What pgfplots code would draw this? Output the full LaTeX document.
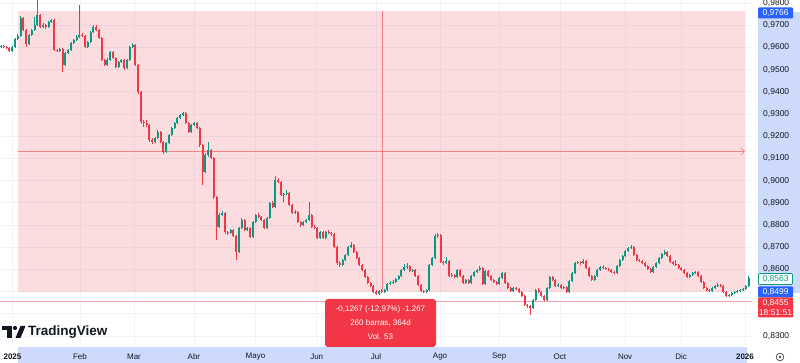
\documentclass[border=0pt]{standalone}
\usepackage{fontspec}
\setmainfont{Liberation Sans}
\usepackage{pgfplots}
\pgfplotsset{compat=1.18}
\usepackage{pgfplotstable}
\usetikzlibrary{arrows.meta}
\definecolor{tvgreen}{HTML}{089981}
\definecolor{tvred}{HTML}{F23645}
\definecolor{tvblue}{HTML}{2962FF}
\definecolor{band}{HTML}{CDDAFB}
\definecolor{gridc}{HTML}{F0F3FA}
\definecolor{txt}{HTML}{131722}

\pgfplotstableread{
i o h l c
0 0.9602 0.9611 0.9598 0.9606
1 0.9606 0.9612 0.9597 0.9602
2 0.9602 0.9606 0.9591 0.9597
3 0.9597 0.9600 0.9577 0.9584
4 0.9584 0.9607 0.9580 0.9602
5 0.9602 0.9643 0.9598 0.9638
6 0.9638 0.9660 0.9633 0.9651
7 0.9651 0.9742 0.9647 0.9732
8 0.9732 0.9737 0.9672 0.9678
9 0.9678 0.9683 0.9602 0.9615
10 0.9615 0.9661 0.9610 0.9656
11 0.9656 0.9684 0.9651 0.9678
12 0.9678 0.9735 0.9673 0.9701
13 0.9701 0.9812 0.9696 0.9746
14 0.9746 0.9752 0.9687 0.9692
15 0.9692 0.9708 0.9686 0.9701
16 0.9701 0.9706 0.9682 0.9692
17 0.9692 0.9719 0.9688 0.9714
18 0.9714 0.9730 0.9709 0.9723
19 0.9723 0.9727 0.9582 0.9588
20 0.9588 0.9595 0.9577 0.9584
21 0.9584 0.9599 0.9579 0.9593
22 0.9593 0.9597 0.9489 0.9521
23 0.9521 0.9581 0.9515 0.9575
24 0.9575 0.9594 0.9570 0.9588
25 0.9588 0.9626 0.9583 0.9620
26 0.9620 0.9640 0.9615 0.9633
27 0.9633 0.9654 0.9628 0.9647
28 0.9647 0.9791 0.9641 0.9656
29 0.9656 0.9663 0.9645 0.9651
30 0.9651 0.9655 0.9596 0.9602
31 0.9602 0.9629 0.9597 0.9624
32 0.9624 0.9675 0.9619 0.9669
33 0.9669 0.9699 0.9664 0.9692
34 0.9692 0.9700 0.9672 0.9678
35 0.9678 0.9683 0.9636 0.9642
36 0.9642 0.9646 0.9537 0.9543
37 0.9543 0.9549 0.9514 0.9521
38 0.9521 0.9550 0.9516 0.9543
39 0.9543 0.9585 0.9538 0.9579
40 0.9579 0.9584 0.9546 0.9552
41 0.9552 0.9557 0.9505 0.9512
42 0.9512 0.9540 0.9507 0.9534
43 0.9534 0.9549 0.9528 0.9543
44 0.9543 0.9548 0.9500 0.9507
45 0.9507 0.9548 0.9502 0.9543
46 0.9543 0.9607 0.9538 0.9602
47 0.9602 0.9622 0.9596 0.9611
48 0.9611 0.9615 0.9515 0.9521
49 0.9521 0.9526 0.9392 0.9399
50 0.9399 0.9403 0.9255 0.9264
51 0.9264 0.9272 0.9240 0.9259
52 0.9259 0.9275 0.9243 0.9250
53 0.9250 0.9255 0.9176 0.9183
54 0.9183 0.9190 0.9165 0.9174
55 0.9174 0.9198 0.9169 0.9192
56 0.9192 0.9226 0.9187 0.9219
57 0.9219 0.9224 0.9168 0.9174
58 0.9174 0.9178 0.9120 0.9129
59 0.9129 0.9175 0.9124 0.9169
60 0.9169 0.9211 0.9164 0.9205
61 0.9205 0.9243 0.9200 0.9237
62 0.9237 0.9266 0.9232 0.9259
63 0.9259 0.9288 0.9254 0.9282
64 0.9282 0.9302 0.9277 0.9295
65 0.9295 0.9310 0.9290 0.9304
66 0.9304 0.9309 0.9253 0.9259
67 0.9259 0.9264 0.9213 0.9219
68 0.9219 0.9256 0.9214 0.9250
69 0.9250 0.9266 0.9245 0.9259
70 0.9259 0.9264 0.9231 0.9237
71 0.9237 0.9241 0.9152 0.9160
72 0.9160 0.9165 0.8980 0.9039
73 0.9039 0.9125 0.9033 0.9115
74 0.9115 0.9174 0.9108 0.9138
75 0.9138 0.9143 0.9096 0.9102
76 0.9102 0.9106 0.8918 0.8926
77 0.8926 0.8930 0.8732 0.8791
78 0.8791 0.8852 0.8785 0.8845
79 0.8845 0.8862 0.8839 0.8854
80 0.8854 0.8858 0.8761 0.8768
81 0.8768 0.8775 0.8757 0.8764
82 0.8764 0.8783 0.8758 0.8777
83 0.8777 0.8782 0.8744 0.8750
84 0.8750 0.8755 0.8642 0.8678
85 0.8678 0.8792 0.8672 0.8786
86 0.8786 0.8830 0.8781 0.8823
87 0.8823 0.8828 0.8771 0.8777
88 0.8777 0.8793 0.8771 0.8786
89 0.8786 0.8791 0.8740 0.8746
90 0.8746 0.8820 0.8741 0.8814
91 0.8814 0.8851 0.8809 0.8845
92 0.8845 0.8852 0.8830 0.8836
93 0.8836 0.8842 0.8818 0.8823
94 0.8823 0.8828 0.8780 0.8786
95 0.8786 0.8838 0.8781 0.8832
96 0.8832 0.8905 0.8827 0.8899
97 0.8899 0.8906 0.8875 0.8881
98 0.8881 0.9021 0.8876 0.9003
99 0.9003 0.9010 0.8988 0.8994
100 0.8994 0.8999 0.8929 0.8935
101 0.8935 0.8946 0.8905 0.8939
102 0.8939 0.8958 0.8933 0.8944
103 0.8944 0.8949 0.8884 0.8890
104 0.8890 0.8895 0.8848 0.8854
105 0.8854 0.8866 0.8849 0.8859
106 0.8859 0.8864 0.8808 0.8814
107 0.8814 0.8819 0.8793 0.8800
108 0.8800 0.8820 0.8795 0.8814
109 0.8814 0.8829 0.8808 0.8823
110 0.8823 0.8904 0.8818 0.8845
111 0.8845 0.8850 0.8785 0.8791
112 0.8791 0.8798 0.8780 0.8786
113 0.8786 0.8791 0.8735 0.8741
114 0.8741 0.8774 0.8736 0.8768
115 0.8768 0.8773 0.8735 0.8741
116 0.8741 0.8774 0.8736 0.8768
117 0.8768 0.8776 0.8758 0.8764
118 0.8764 0.8770 0.8752 0.8759
119 0.8759 0.8764 0.8695 0.8701
120 0.8701 0.8706 0.8620 0.8629
121 0.8629 0.8636 0.8613 0.8620
122 0.8620 0.8648 0.8615 0.8642
123 0.8642 0.8671 0.8637 0.8665
124 0.8665 0.8707 0.8660 0.8701
125 0.8701 0.8722 0.8695 0.8710
126 0.8710 0.8715 0.8672 0.8678
127 0.8678 0.8683 0.8645 0.8651
128 0.8651 0.8656 0.8614 0.8620
129 0.8620 0.8625 0.8591 0.8597
130 0.8597 0.8602 0.8560 0.8566
131 0.8566 0.8571 0.8533 0.8539
132 0.8539 0.8544 0.8519 0.8525
133 0.8525 0.8530 0.8492 0.8498
134 0.8498 0.8505 0.8484 0.8489
135 0.8489 0.8509 0.8485 0.8503
136 0.8503 0.8510 0.8492 0.8498
137 0.8498 0.8513 0.8493 0.8507
138 0.8507 0.8540 0.8502 0.8534
139 0.8534 0.8546 0.8529 0.8539
140 0.8539 0.8550 0.8533 0.8543
141 0.8543 0.8563 0.8538 0.8557
142 0.8557 0.8576 0.8552 0.8570
143 0.8570 0.8603 0.8565 0.8597
144 0.8597 0.8624 0.8592 0.8611
145 0.8611 0.8629 0.8604 0.8615
146 0.8615 0.8620 0.8587 0.8593
147 0.8593 0.8604 0.8588 0.8597
148 0.8597 0.8602 0.8564 0.8570
149 0.8570 0.8575 0.8524 0.8530
150 0.8530 0.8535 0.8497 0.8503
151 0.8503 0.8509 0.8492 0.8498
152 0.8498 0.8513 0.8493 0.8507
153 0.8507 0.8626 0.8502 0.8620
154 0.8620 0.8657 0.8615 0.8651
155 0.8651 0.8758 0.8646 0.8750
156 0.8750 0.8762 0.8740 0.8755
157 0.8755 0.8760 0.8627 0.8633
158 0.8633 0.8640 0.8622 0.8629
159 0.8629 0.8656 0.8623 0.8638
160 0.8638 0.8643 0.8564 0.8570
161 0.8570 0.8582 0.8565 0.8575
162 0.8575 0.8581 0.8560 0.8566
163 0.8566 0.8603 0.8561 0.8597
164 0.8597 0.8602 0.8564 0.8570
165 0.8570 0.8575 0.8533 0.8539
166 0.8539 0.8558 0.8534 0.8552
167 0.8552 0.8557 0.8533 0.8539
168 0.8539 0.8576 0.8534 0.8570
169 0.8570 0.8594 0.8565 0.8588
170 0.8588 0.8604 0.8583 0.8597
171 0.8597 0.8616 0.8592 0.8606
172 0.8606 0.8611 0.8528 0.8534
173 0.8534 0.8599 0.8529 0.8593
174 0.8593 0.8598 0.8564 0.8570
175 0.8570 0.8575 0.8546 0.8552
176 0.8552 0.8558 0.8537 0.8543
177 0.8543 0.8549 0.8528 0.8534
178 0.8534 0.8567 0.8529 0.8561
179 0.8561 0.8590 0.8556 0.8584
180 0.8584 0.8589 0.8533 0.8539
181 0.8539 0.8544 0.8510 0.8516
182 0.8516 0.8521 0.8497 0.8503
183 0.8503 0.8522 0.8498 0.8516
184 0.8516 0.8521 0.8506 0.8512
185 0.8512 0.8517 0.8492 0.8498
186 0.8498 0.8503 0.8474 0.8480
187 0.8480 0.8485 0.8434 0.8440
188 0.8440 0.8446 0.8428 0.8435
189 0.8435 0.8441 0.8395 0.8426
190 0.8426 0.8468 0.8421 0.8462
191 0.8462 0.8513 0.8457 0.8507
192 0.8507 0.8515 0.8492 0.8498
193 0.8498 0.8503 0.8474 0.8480
194 0.8480 0.8486 0.8456 0.8462
195 0.8462 0.8522 0.8457 0.8516
196 0.8516 0.8572 0.8511 0.8566
197 0.8566 0.8571 0.8546 0.8552
198 0.8552 0.8557 0.8519 0.8525
199 0.8525 0.8537 0.8520 0.8530
200 0.8530 0.8535 0.8510 0.8516
201 0.8516 0.8527 0.8511 0.8521
202 0.8521 0.8526 0.8492 0.8498
203 0.8498 0.8554 0.8493 0.8548
204 0.8548 0.8590 0.8543 0.8584
205 0.8584 0.8635 0.8579 0.8629
206 0.8629 0.8640 0.8624 0.8633
207 0.8633 0.8639 0.8622 0.8629
208 0.8629 0.8645 0.8623 0.8638
209 0.8638 0.8643 0.8600 0.8606
210 0.8606 0.8611 0.8564 0.8570
211 0.8570 0.8575 0.8546 0.8552
212 0.8552 0.8576 0.8547 0.8570
213 0.8570 0.8603 0.8565 0.8597
214 0.8597 0.8617 0.8592 0.8611
215 0.8611 0.8618 0.8600 0.8606
216 0.8606 0.8612 0.8596 0.8602
217 0.8602 0.8607 0.8591 0.8597
218 0.8597 0.8602 0.8582 0.8588
219 0.8588 0.8594 0.8578 0.8584
220 0.8584 0.8621 0.8579 0.8615
221 0.8615 0.8648 0.8610 0.8642
222 0.8642 0.8666 0.8637 0.8660
223 0.8660 0.8689 0.8655 0.8683
224 0.8683 0.8703 0.8678 0.8696
225 0.8696 0.8710 0.8690 0.8701
226 0.8701 0.8706 0.8659 0.8665
227 0.8665 0.8670 0.8636 0.8642
228 0.8642 0.8648 0.8632 0.8638
229 0.8638 0.8643 0.8623 0.8629
230 0.8629 0.8634 0.8609 0.8615
231 0.8615 0.8620 0.8596 0.8602
232 0.8602 0.8607 0.8582 0.8588
233 0.8588 0.8617 0.8583 0.8611
234 0.8611 0.8635 0.8606 0.8629
235 0.8629 0.8657 0.8624 0.8651
236 0.8651 0.8675 0.8646 0.8669
237 0.8669 0.8686 0.8664 0.8678
238 0.8678 0.8683 0.8654 0.8660
239 0.8660 0.8665 0.8627 0.8633
240 0.8633 0.8638 0.8618 0.8624
241 0.8624 0.8643 0.8614 0.8620
242 0.8620 0.8625 0.8600 0.8606
243 0.8606 0.8611 0.8591 0.8597
244 0.8597 0.8602 0.8578 0.8584
245 0.8584 0.8589 0.8560 0.8566
246 0.8566 0.8581 0.8561 0.8575
247 0.8575 0.8590 0.8570 0.8584
248 0.8584 0.8595 0.8579 0.8588
249 0.8588 0.8593 0.8564 0.8570
250 0.8570 0.8575 0.8537 0.8543
251 0.8543 0.8548 0.8510 0.8516
252 0.8516 0.8521 0.8501 0.8507
253 0.8507 0.8512 0.8497 0.8503
254 0.8503 0.8522 0.8498 0.8516
255 0.8516 0.8531 0.8511 0.8525
256 0.8525 0.8537 0.8520 0.8530
257 0.8530 0.8535 0.8519 0.8525
258 0.8525 0.8530 0.8492 0.8498
259 0.8498 0.8503 0.8474 0.8480
260 0.8480 0.8491 0.8475 0.8485
261 0.8485 0.8500 0.8480 0.8494
262 0.8494 0.8504 0.8489 0.8498
263 0.8498 0.8509 0.8493 0.8503
264 0.8503 0.8513 0.8498 0.8507
265 0.8507 0.8518 0.8502 0.8512
266 0.8512 0.8531 0.8507 0.8525
267 0.8525 0.8570 0.8520 0.8563
}\candles

\begin{document}
\begin{tikzpicture}[x=1pt,y=1pt]
\useasboundingbox (0,0) rectangle (800,363);
\fill[white] (0,0) rectangle (800,363);
\fill[band] (18,0) rectangle (747,16);
\fill[band] (758,70) rectangle (800,351);
\begin{axis}[
  at={(0pt,18pt)}, anchor=south west, scale only axis,
  width=752pt, height=345pt,
  xmin=-0.357, xmax=268.21, ymin=0.825946, ymax=0.981351,
  axis line style={draw=none}, major tick length=0pt,
  xtick={4.1,28.2,47.5,68.9,90.9,112.75,133.9,156.8,177.9,199.6,222.9,242.9,265.7},
  xticklabels={\textbf{2025},Feb,Mar,Abr,Mayo,Jun,Jul,Ago,Sep,Oct,Nov,Dic,\textbf{2026}},
  xticklabel style={anchor=center, yshift=-11.7pt, inner sep=0pt, font=\fontsize{8}{9}\selectfont, text=txt},
  ytick={0.83,0.85,0.86,0.87,0.88,0.89,0.90,0.91,0.92,0.93,0.94,0.95,0.96,0.97,0.98},
  extra y ticks={0.84}, extra y tick labels={},
  extra y tick style={grid=major},
  yticklabel pos=right,
  yticklabel style={anchor=west, xshift=11pt, inner sep=0pt, font=\fontsize{8.5}{10}\selectfont, text=txt,
    /pgf/number format/fixed, /pgf/number format/fixed zerofill,
    /pgf/number format/precision=4, /pgf/number format/use comma},
  /pgf/number format/assume math mode=true,
  grid=major, major grid style={draw=gridc, line width=0.7pt},
]
\fill[tvred, fill opacity=0.17] (axis cs:6.07,0.9766) rectangle (axis cs:265.7,0.8499);
\draw[tvred, opacity=0.45, line width=0.7pt] (axis cs:-1,0.8455) -- (axis cs:270,0.8455);
\draw[tvred, opacity=0.55, line width=0.7pt, -{Straight Barb[length=3.5pt,width=7pt]}] (axis cs:6.07,0.9132) -- (axis cs:265.7,0.9132);
\draw[tvred, opacity=0.55, line width=0.7pt] (axis cs:136.1,0.9766) -- (axis cs:136.1,0.8499);
% wicks
\addplot[draw=tvgreen, line width=0.9pt, quiver={u=0, v=\thisrow{h}-\thisrow{l}},
  restrict expr to domain={\thisrow{c}-\thisrow{o}}{0:1}] table[x=i, y=l] {\candles};
\addplot[draw=tvred, line width=0.9pt, quiver={u=0, v=\thisrow{h}-\thisrow{l}},
  restrict expr to domain={\thisrow{c}-\thisrow{o}}{-1:-0.00001}] table[x=i, y=l] {\candles};
% bodies
\addplot[draw=tvgreen, line width=2.1pt, quiver={u=0, v=\thisrow{c}-\thisrow{o}},
  restrict expr to domain={\thisrow{c}-\thisrow{o}}{0:1}] table[x=i, y=o] {\candles};
\addplot[draw=tvred, line width=2.1pt, quiver={u=0, v=\thisrow{c}-\thisrow{o}},
  restrict expr to domain={\thisrow{c}-\thisrow{o}}{-1:-0.00001}] table[x=i, y=o] {\candles};
\end{axis}
% right price labels
\node[fill=tvblue, text=white, minimum width=35pt, minimum height=11pt, inner sep=0pt, rounded corners=1pt,
  font=\fontsize{8.5}{10}\selectfont] at (775.5,350) {0,9766};
\node[fill=white, draw=tvgreen, line width=0.6pt, text=tvgreen, minimum width=34pt, minimum height=11pt, inner sep=0pt, rounded corners=1pt,
  font=\fontsize{8.5}{10}\selectfont] at (775.5,84) {0,8563};
\node[fill=tvblue, text=white, minimum width=35pt, minimum height=11pt, inner sep=0pt, rounded corners=1pt,
  font=\fontsize{8.5}{10}\selectfont] at (775.5,71) {0,8499};
\node[fill=tvred, text=white, minimum width=35pt, minimum height=20pt, inner sep=0pt, rounded corners=1pt, align=center,
  font=\fontsize{8.5}{10}\selectfont] at (775.5,55.5) {0,8455\\18:51:51};
% tooltip
\node[fill=tvred, text=white, minimum width=111pt, minimum height=48pt, inner sep=0pt, rounded corners=3pt, align=center,
  font=\fontsize{8}{14}\selectfont] at (380.5,40) {-0,1267 (-12,97\%) -1.267\\260 barras, 364d\\Vol. 53};
% logo
\fill[txt] (2,37) rectangle (11.5,33);
\fill[txt] (7,33) rectangle (11.5,25);
\fill[txt] (15,35) circle (2.1);
\fill[txt] (15.5,25) -- (20.5,25) -- (25.5,37) -- (20.5,37) -- cycle;
\node[anchor=base west, inner sep=0pt, text=txt, font=\fontsize{13.5}{15}\selectfont\bfseries] at (28,27) {TradingView};
% gear
\draw[txt!75, line width=0.8pt] (780,6) circle (3.8);
\fill[txt!75] (780,6) circle (1.3);
\end{tikzpicture}
\end{document}
